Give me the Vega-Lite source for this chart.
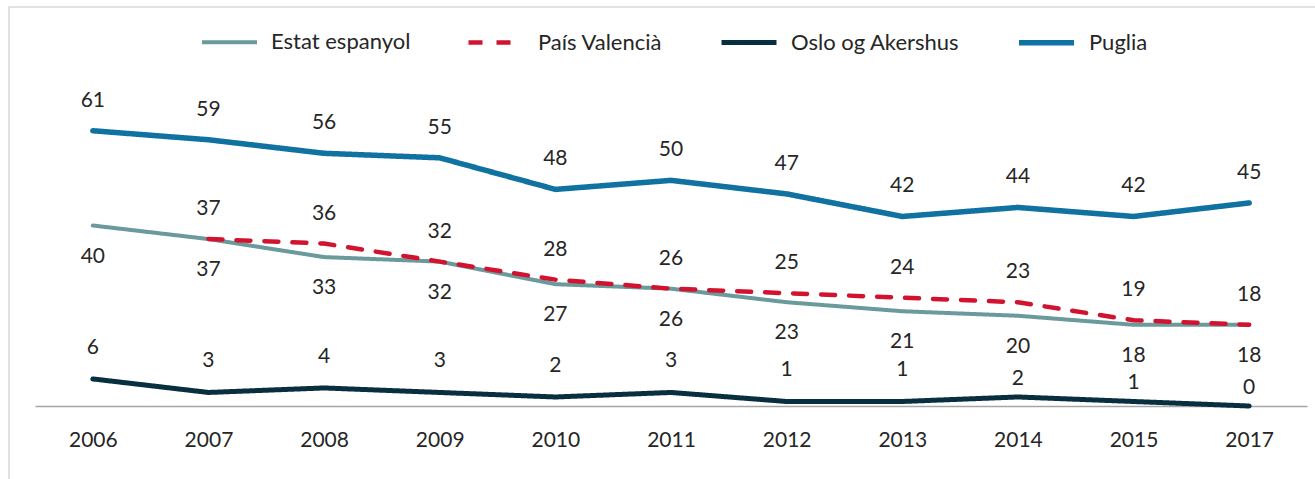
{
  "$schema": "https://vega.github.io/schema/vega-lite/v6.json",
  "width": 1326,
  "height": 492,
  "autosize": "none",
  "padding": {"left": 9, "top": 7, "right": -20, "bottom": -20},
  "background": "white",
  "config": {
    "view": {"stroke": "#d9d9d9", "strokeWidth": 1.5},
    "font": "Lato"
  },
  "data": {
    "values": [
      {"year": "2006", "series": "Estat espanyol", "value": 40},
      {"year": "2007", "series": "Estat espanyol", "value": 37},
      {"year": "2008", "series": "Estat espanyol", "value": 33},
      {"year": "2009", "series": "Estat espanyol", "value": 32},
      {"year": "2010", "series": "Estat espanyol", "value": 27},
      {"year": "2011", "series": "Estat espanyol", "value": 26},
      {"year": "2012", "series": "Estat espanyol", "value": 23},
      {"year": "2013", "series": "Estat espanyol", "value": 21},
      {"year": "2014", "series": "Estat espanyol", "value": 20},
      {"year": "2015", "series": "Estat espanyol", "value": 18},
      {"year": "2017", "series": "Estat espanyol", "value": 18},
      {"year": "2007", "series": "País Valencià", "value": 37},
      {"year": "2008", "series": "País Valencià", "value": 36},
      {"year": "2009", "series": "País Valencià", "value": 32},
      {"year": "2010", "series": "País Valencià", "value": 28},
      {"year": "2011", "series": "País Valencià", "value": 26},
      {"year": "2012", "series": "País Valencià", "value": 25},
      {"year": "2013", "series": "País Valencià", "value": 24},
      {"year": "2014", "series": "País Valencià", "value": 23},
      {"year": "2015", "series": "País Valencià", "value": 19},
      {"year": "2017", "series": "País Valencià", "value": 18},
      {"year": "2006", "series": "Oslo og Akershus", "value": 6},
      {"year": "2007", "series": "Oslo og Akershus", "value": 3},
      {"year": "2008", "series": "Oslo og Akershus", "value": 4},
      {"year": "2009", "series": "Oslo og Akershus", "value": 3},
      {"year": "2010", "series": "Oslo og Akershus", "value": 2},
      {"year": "2011", "series": "Oslo og Akershus", "value": 3},
      {"year": "2012", "series": "Oslo og Akershus", "value": 1},
      {"year": "2013", "series": "Oslo og Akershus", "value": 1},
      {"year": "2014", "series": "Oslo og Akershus", "value": 2},
      {"year": "2015", "series": "Oslo og Akershus", "value": 1},
      {"year": "2017", "series": "Oslo og Akershus", "value": 0},
      {"year": "2006", "series": "Puglia", "value": 61},
      {"year": "2007", "series": "Puglia", "value": 59},
      {"year": "2008", "series": "Puglia", "value": 56},
      {"year": "2009", "series": "Puglia", "value": 55},
      {"year": "2010", "series": "Puglia", "value": 48},
      {"year": "2011", "series": "Puglia", "value": 50},
      {"year": "2012", "series": "Puglia", "value": 47},
      {"year": "2013", "series": "Puglia", "value": 42},
      {"year": "2014", "series": "Puglia", "value": 44},
      {"year": "2015", "series": "Puglia", "value": 42},
      {"year": "2017", "series": "Puglia", "value": 45}
    ]
  },
  "encoding": {
    "x": {
      "field": "year",
      "type": "ordinal",
      "scale": {"type": "point", "range": [26, 1298], "padding": 0.5},
      "axis": {
        "orient": "bottom",
        "offset": -93,
        "title": null,
        "ticks": false,
        "labelPadding": 23,
        "labelFontSize": 21,
        "labelColor": "#262626",
        "labelAngle": 0,
        "domainColor": "#a6a6a6",
        "domainWidth": 1.5,
        "grid": false
      }
    },
    "y": {
      "field": "value",
      "type": "quantitative",
      "scale": {"domain": [0, 80], "range": [399, 38]},
      "axis": null
    }
  },
  "layer": [
    {
      "mark": {"type": "line", "strokeCap": "round", "strokeJoin": "round"},
      "encoding": {
        "color": {
          "field": "series",
          "type": "nominal",
          "sort": ["Estat espanyol", "País Valencià", "Oslo og Akershus", "Puglia"],
          "scale": {
            "domain": ["Estat espanyol", "País Valencià", "Oslo og Akershus", "Puglia"],
            "range": ["#6a9a9b", "#d2132f", "#082f3f", "#1072a0"]
          },
          "legend": {
            "title": null,
            "orient": "none",
            "direction": "horizontal",
            "legendX": 191,
            "legendY": 5,
            "symbolType": "stroke",
            "symbolSize": 3025,
            "labelFontSize": 22,
            "labelColor": "#262626",
            "labelOffset": 12,
            "labelLimit": 400,
            "columnPadding": 48
          }
        },
        "strokeDash": {
          "field": "series",
          "type": "nominal",
          "sort": ["Estat espanyol", "País Valencià", "Oslo og Akershus", "Puglia"],
          "scale": {
            "domain": ["Estat espanyol", "País Valencià", "Oslo og Akershus", "Puglia"],
            "range": [[1, 0], [14, 14], [1, 0], [1, 0]]
          },
          "legend": {
            "title": null,
            "orient": "none",
            "direction": "horizontal",
            "legendX": 191,
            "legendY": 5,
            "symbolType": "stroke",
            "symbolSize": 3025,
            "labelFontSize": 22,
            "labelColor": "#262626",
            "labelOffset": 12,
            "labelLimit": 400,
            "columnPadding": 48
          }
        },
        "strokeWidth": {
          "field": "series",
          "type": "nominal",
          "sort": ["Estat espanyol", "País Valencià", "Oslo og Akershus", "Puglia"],
          "scale": {
            "domain": ["Estat espanyol", "País Valencià", "Oslo og Akershus", "Puglia"],
            "range": [4, 5.5, 4, 4]
          },
          "legend": {
            "title": null,
            "orient": "none",
            "direction": "horizontal",
            "legendX": 191,
            "legendY": 5,
            "symbolType": "stroke",
            "symbolSize": 3025,
            "labelFontSize": 22,
            "labelColor": "#262626",
            "labelOffset": 12,
            "labelLimit": 400,
            "columnPadding": 48
          }
        }
      }
    },
    {
      "transform": [{"filter": "datum.series == 'Puglia' || datum.series == 'País Valencià'"}],
      "mark": {"type": "text", "dy": -30, "fontSize": 21, "color": "#262626", "baseline": "middle"},
      "encoding": {"text": {"field": "value", "type": "quantitative"}}
    },
    {
      "transform": [{"filter": "datum.series == 'Oslo og Akershus' && toNumber(datum.year) <= 2013"}],
      "mark": {"type": "text", "dy": -31, "fontSize": 21, "color": "#262626", "baseline": "middle"},
      "encoding": {"text": {"field": "value", "type": "quantitative"}}
    },
    {
      "transform": [{"filter": "datum.series == 'Oslo og Akershus' && toNumber(datum.year) > 2013"}],
      "mark": {"type": "text", "dy": -18, "fontSize": 21, "color": "#262626", "baseline": "middle"},
      "encoding": {"text": {"field": "value", "type": "quantitative"}}
    },
    {
      "transform": [{"filter": "datum.series == 'Estat espanyol'"}],
      "mark": {"type": "text", "dy": 31, "fontSize": 21, "color": "#262626", "baseline": "middle"},
      "encoding": {"text": {"field": "value", "type": "quantitative"}}
    }
  ]
}
